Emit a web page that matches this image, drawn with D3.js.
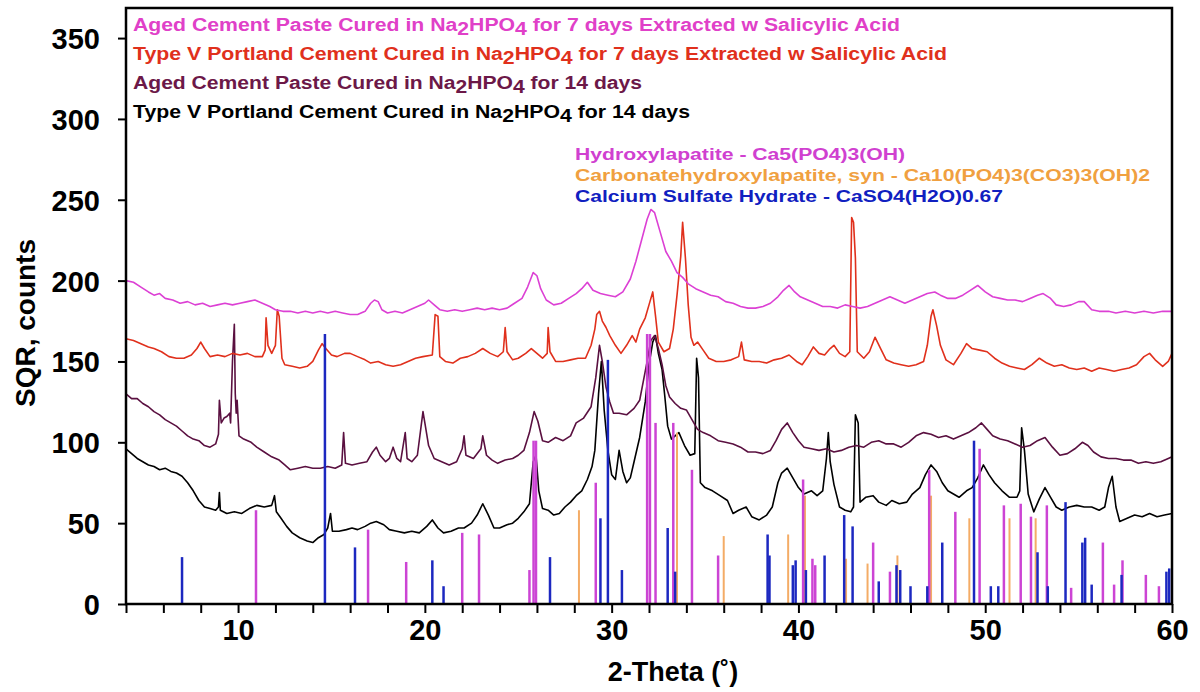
<!DOCTYPE html>
<html>
<head>
<meta charset="utf-8">
<script src="https://cdn.jsdelivr.net/npm/d3@7"></script>
<style>
  body { margin: 0; background: #fff; }
  svg { display: block; font-family: "Liberation Sans", Arial, sans-serif; }
</style>
</head>
<body>
<div id="chart"></div>
<script>
var WD = 1200, HT = 692
var margin = { left: 126, right: 28, top: 8, bottom: 88 }

// scans: [2-theta, counts]
var agedPaste7 = [[4,200],[4.4,199],[4.8,196],[5.2,193],[5.5,191],[5.8,192],[6.1,189],[6.5,188],[6.9,186],[7.3,187],[7.7,185],[8.1,186],[8.5,184],[8.9,185],[9.3,186],[9.7,185],[10.1,186],[10.5,187],[10.9,188],[11.3,186],[11.7,184],[12.0,182],[12.4,181],[12.8,181],[13.2,180],[13.6,181],[14.0,180],[14.4,181],[14.8,180],[15.2,181],[15.6,180],[16.0,179],[16.4,179],[16.8,181],[17.1,186],[17.3,188],[17.5,187],[17.7,182],[18.0,180],[18.4,181],[18.8,180],[19.2,182],[19.6,184],[20.0,186],[20.2,188],[20.5,185],[20.8,182],[21.2,181],[21.6,182],[22.0,181],[22.4,182],[22.8,183],[23.2,182],[23.6,183],[24.0,182],[24.4,183],[24.8,186],[25.2,189],[25.5,196],[25.8,205],[26.0,203],[26.2,195],[26.5,188],[26.9,185],[27.3,186],[27.7,189],[28.1,192],[28.4,195],[28.7,199],[29.0,194],[29.4,192],[29.8,191],[30.2,190],[30.6,193],[31.0,201],[31.3,212],[31.6,225],[31.9,238],[32.1,244],[32.3,242],[32.6,230],[32.9,218],[33.2,212],[33.5,205],[33.8,202],[34.1,198],[34.5,195],[34.9,193],[35.3,191],[35.7,190],[36.1,187],[36.5,186],[36.9,184],[37.3,183],[37.7,183],[38.1,184],[38.5,186],[38.9,190],[39.2,194],[39.5,197],[39.8,193],[40.1,190],[40.5,188],[40.9,186],[41.3,184],[41.7,184],[42.1,183],[42.5,185],[42.9,184],[43.3,183],[43.7,184],[44.1,186],[44.5,188],[44.9,190],[45.3,188],[45.7,186],[46.1,188],[46.5,190],[46.9,192],[47.3,193],[47.6,191],[48.0,189],[48.4,189],[48.8,191],[49.2,194],[49.6,197],[50.0,193],[50.4,190],[50.8,189],[51.2,188],[51.6,188],[52.0,187],[52.4,189],[52.8,191],[53.1,192],[53.5,189],[53.8,185],[54.2,184],[54.6,185],[55.0,187],[55.3,187],[55.7,182],[56.1,181],[56.6,181],[57.0,180],[57.5,181],[58.0,180],[58.5,181],[59.0,180],[59.5,181],[60,181]]

var typeV7 = [[4,164],[4.4,163],[4.8,161],[5.2,159],[5.5,158],[5.9,156],[6.3,153],[6.7,152],[7.1,152],[7.5,154],[7.8,158],[8.0,162],[8.2,158],[8.5,153],[8.9,154],[9.3,153],[9.7,155],[10.1,154],[10.5,155],[10.9,153],[11.3,153],[11.45,157],[11.5,177],[11.6,160],[11.8,155],[12.0,160],[12.1,182],[12.2,178],[12.35,152],[12.5,148],[12.9,147],[13.3,146],[13.7,147],[14.0,150],[14.3,157],[14.5,161],[14.7,158],[15.0,154],[15.3,153],[15.7,155],[16.0,155],[16.4,153],[16.8,151],[17.1,149],[17.5,150],[17.9,148],[18.3,147],[18.7,148],[19.1,150],[19.5,152],[19.9,153],[20.4,154],[20.55,179],[20.7,178],[20.8,153],[21.1,150],[21.5,149],[21.9,152],[22.3,153],[22.7,155],[23.1,158],[23.5,155],[23.9,153],[24.2,156],[24.3,171],[24.4,156],[24.7,151],[25.0,152],[25.4,155],[25.7,158],[26.0,155],[26.3,152],[26.55,155],[26.6,171],[26.7,156],[27.0,150],[27.4,150],[27.8,151],[28.2,152],[28.6,152],[28.9,160],[29.1,170],[29.2,179],[29.35,181],[29.5,175],[29.7,171],[29.9,166],[30.2,160],[30.5,155],[30.8,160],[31.1,166],[31.3,162],[31.5,170],[31.8,177],[32.0,185],[32.2,193],[32.35,178],[32.5,162],[32.8,156],[33.1,158],[33.3,170],[33.5,191],[33.7,215],[33.8,236],[33.95,214],[34.1,185],[34.25,165],[34.4,160],[34.6,162],[34.9,157],[35.2,152],[35.6,150],[36.0,150],[36.4,151],[36.8,153],[36.95,162],[37.1,151],[37.5,150],[37.9,150],[38.3,149],[38.7,151],[39.1,152],[39.5,154],[39.9,150],[40.2,148],[40.5,153],[40.8,159],[41.1,155],[41.4,154],[41.7,158],[41.9,160],[42.2,155],[42.5,153],[42.75,156],[42.85,239],[42.95,236],[43.05,214],[43.15,156],[43.5,152],[43.8,156],[44.1,165],[44.4,158],[44.7,151],[45.1,149],[45.5,148],[45.9,147],[46.3,148],[46.7,150],[46.9,160],[47.1,178],[47.2,182],[47.4,172],[47.6,160],[47.9,151],[48.3,148],[48.7,155],[49.0,161],[49.3,158],[49.7,157],[50.1,156],[50.5,152],[50.9,149],[51.3,147],[51.7,146],[52.1,145],[52.5,148],[52.9,152],[53.3,149],[53.7,147],[54.1,148],[54.5,146],[54.9,145],[55.3,146],[55.7,144],[56.1,146],[56.5,145],[56.9,144],[57.3,145],[57.7,146],[58.1,148],[58.5,153],[58.8,155],[59.1,151],[59.5,147],[59.8,150],[60,155]]

var agedPaste14 = [[4,130],[4.3,127],[4.6,127],[4.9,124],[5.2,122],[5.5,119],[5.8,117],[6.1,114],[6.4,112],[6.7,110],[7.0,107],[7.3,104],[7.6,102],[7.9,101],[8.2,98],[8.5,97],[8.8,99],[8.95,105],[9.0,126],[9.1,112],[9.25,115],[9.4,116],[9.55,118],[9.6,112],[9.7,150],[9.8,173],[9.85,130],[9.9,118],[9.95,126],[10.05,104],[10.3,102],[10.7,100],[11.0,97],[11.4,94],[11.8,91],[12.2,89],[12.5,86],[12.8,83],[13.2,84],[13.6,85],[14.0,84],[14.4,84],[14.8,85],[15.2,84],[15.55,86],[15.65,106],[15.75,87],[16.1,86],[16.5,87],[16.9,88],[17.2,94],[17.4,97],[17.6,92],[17.9,88],[18.1,90],[18.3,97],[18.5,90],[18.7,88],[18.95,106],[19.05,90],[19.3,88],[19.6,92],[19.8,110],[19.9,119],[20.0,112],[20.2,98],[20.5,90],[20.9,88],[21.3,86],[21.7,88],[22.0,96],[22.1,104],[22.2,92],[22.6,90],[23.0,96],[23.1,104],[23.3,92],[23.6,89],[23.9,87],[24.3,89],[24.7,90],[25.0,92],[25.3,95],[25.6,106],[25.85,119],[26.05,113],[26.3,101],[26.6,100],[27.0,103],[27.4,101],[27.8,104],[28.1,112],[28.5,115],[28.9,122],[29.15,140],[29.35,160],[29.5,150],[29.7,134],[29.9,125],[30.1,118],[30.4,118],[30.8,117],[31.2,121],[31.5,126],[31.7,138],[31.9,150],[32.1,163],[32.3,166],[32.5,158],[32.7,148],[32.9,135],[33.1,128],[33.4,124],[33.7,121],[34.0,120],[34.3,114],[34.6,108],[34.9,106],[35.3,104],[35.7,101],[36.1,100],[36.5,99],[36.9,97],[37.3,94],[37.7,94],[38.1,93],[38.5,95],[38.8,101],[39.1,108],[39.4,112],[39.7,106],[40.0,101],[40.3,97],[40.7,96],[41.1,95],[41.5,96],[41.9,94],[42.3,95],[42.7,97],[43.1,98],[43.5,97],[43.9,100],[44.3,101],[44.7,99],[45.1,99],[45.5,97],[45.9,100],[46.3,104],[46.7,106],[47.1,105],[47.5,103],[47.9,104],[48.3,102],[48.7,104],[49.1,106],[49.5,109],[49.8,112],[50.1,108],[50.4,104],[50.8,102],[51.2,101],[51.6,99],[52.0,97],[52.4,98],[52.8,101],[53.2,103],[53.6,97],[54.0,92],[54.4,93],[54.8,96],[55.2,100],[55.5,98],[55.8,94],[56.2,91],[56.6,90],[57.0,90],[57.4,89],[57.8,89],[58.2,87],[58.6,88],[59.0,87],[59.4,88],[59.8,90],[60,91]]

var typeV14 = [[4,96],[4.3,93],[4.6,90],[4.9,88],[5.2,86],[5.5,85],[5.8,83],[6.1,84],[6.4,82],[6.7,81],[7.0,79],[7.3,75],[7.6,70],[7.9,64],[8.2,60],[8.5,59],[8.8,58],[8.95,60],[9.0,69],[9.05,58],[9.4,56],[9.8,57],[10.2,56],[10.6,59],[11.0,61],[11.4,60],[11.8,61],[11.95,67],[12.05,57],[12.3,53],[12.6,48],[12.9,44],[13.3,41],[13.7,39],[14.0,38],[14.3,41],[14.6,43],[14.8,47],[14.95,56],[15.05,45],[15.4,45],[15.8,46],[16.1,47],[16.4,46],[16.8,48],[17.1,50],[17.4,51],[17.8,49],[18.1,46],[18.5,45],[18.9,44],[19.3,45],[19.7,44],[20.1,48],[20.4,52],[20.7,47],[21.0,44],[21.4,45],[21.8,47],[22.1,47],[22.5,50],[22.8,55],[23.1,62],[23.4,55],[23.7,47],[24.0,47],[24.4,49],[24.7,50],[25.0,53],[25.3,57],[25.6,62],[25.8,88],[25.95,92],[26.1,70],[26.3,59],[26.6,58],[26.9,55],[27.2,56],[27.5,60],[27.8,63],[28.1,67],[28.4,70],[28.7,77],[28.95,85],[29.1,95],[29.3,130],[29.45,150],[29.6,120],[29.8,95],[30.0,80],[30.2,77],[30.4,95],[30.6,82],[30.8,75],[31.0,78],[31.2,88],[31.5,103],[31.8,125],[32.0,148],[32.2,162],[32.35,166],[32.5,155],[32.7,145],[32.85,128],[33.0,110],[33.2,102],[33.4,104],[33.6,106],[33.9,98],[34.2,92],[34.45,93],[34.55,152],[34.65,140],[34.75,75],[35.0,72],[35.4,70],[35.8,67],[36.2,64],[36.5,56],[36.8,58],[37.2,60],[37.5,54],[37.9,52],[38.3,55],[38.6,60],[38.9,75],[39.1,81],[39.4,84],[39.7,78],[40.0,72],[40.3,68],[40.7,70],[41.0,67],[41.3,70],[41.5,90],[41.6,106],[41.7,88],[41.9,74],[42.2,60],[42.5,58],[42.8,57],[42.95,60],[43.05,117],[43.2,112],[43.3,63],[43.6,66],[44.0,67],[44.3,63],[44.7,61],[45.0,64],[45.4,62],[45.8,63],[46.1,68],[46.5,72],[46.8,80],[47.1,86],[47.4,82],[47.7,75],[48.0,70],[48.3,68],[48.6,66],[49.0,70],[49.3,72],[49.6,78],[49.9,86],[50.2,80],[50.5,75],[50.9,70],[51.3,66],[51.7,66],[51.85,70],[51.95,109],[52.1,95],[52.3,68],[52.6,57],[52.9,65],[53.2,72],[53.5,66],[53.8,60],[54.1,58],[54.5,60],[54.9,61],[55.3,60],[55.7,60],[56.1,58],[56.4,60],[56.6,72],[56.8,79],[57.0,60],[57.2,51],[57.6,53],[58.0,55],[58.4,54],[58.8,56],[59.2,54],[59.6,55],[60,56]]

// reference patterns (stick lines): [2-theta, height]
var hydroxylapatite = [[10.96,58],[16.96,46],[19.0,26],[22.0,44],[22.9,43],[25.6,21],[25.82,101],[25.95,101],[29.15,75],[31.9,167],[32.05,167],[32.35,112],[33.3,112],[34.3,83],[35.7,30],[40.25,77],[40.75,28],[40.9,24],[44.0,38],[44.9,20],[47.0,83],[48.4,57],[49.7,96],[51.0,61],[51.9,62],[52.45,54],[53.3,61],[54.6,10],[56.3,38],[56.9,12],[57.35,27],[58.6,18],[59.3,11]]
var carbHydroxylapatite = [[28.25,58],[33.5,106],[36.0,42],[39.45,43],[40.35,67],[42.55,28],[43.7,25],[45.3,30],[47.1,67],[49.15,53],[51.3,53],[52.7,53]]
var calciumSulfate = [[7.0,29],[14.65,167],[16.26,35],[20.4,27],[21.0,11],[26.7,29],[29.4,53],[29.8,151],[30.55,21],[33.0,47],[33.4,20],[38.35,43],[38.45,30],[39.7,24],[39.85,27],[40.4,21],[41.4,30],[42.45,55],[42.9,48],[44.3,14],[45.25,24],[45.45,21],[46.0,11],[46.9,11],[47.7,38],[49.4,101],[50.3,11],[50.7,11],[52.8,32],[53.35,11],[54.3,63],[55.2,38],[55.35,41],[55.7,12],[57.3,18],[59.7,20],[59.85,22]]

var yTicks = [0, 50, 100, 150, 200, 250, 300, 350]
var xTicks = [10, 20, 30, 40, 50, 60]

var scans = [
  { name: "typeV14", data: typeV14, color: "#000000" },
  { name: "aged14", data: agedPaste14, color: "#5a1040" },
  { name: "typeV7", data: typeV7, color: "#e0301c" },
  { name: "aged7", data: agedPaste7, color: "#dc40d4" }
]
var sticks = [
  { data: carbHydroxylapatite, color: "#f4ac66", w: 2 },
  { data: hydroxylapatite, color: "#cc44d4", w: 2.5 },
  { data: calciumSulfate, color: "#1c28c0", w: 2.5 }
]

var width = WD - margin.left - margin.right
var height = HT - margin.top - margin.bottom

var x = d3.scaleLinear().domain([4, 60]).range([0, width])
var y = d3.scaleLinear().domain([0, 368.6]).range([height, 0])

var svg = d3.select("#chart").append("svg")
    .attr("width", WD).attr("height", HT)
var g = svg.append("g")
    .attr("transform", "translate(" + margin.left + "," + margin.top + ")")

var line = d3.line().x(function(d){ return x(d[0]) }).y(function(d){ return y(d[1]) })

g.selectAll(".scan").data(scans).enter().append("path")
    .attr("class", "scan")
    .attr("d", function(d){ return line(d.data) })
    .attr("fill", "none")
    .attr("stroke", function(d){ return d.color })
    .attr("stroke-width", 1.6)
    .attr("stroke-linejoin", "round")

sticks.forEach(function(s) {
  g.selectAll(null).data(s.data).enter().append("line")
      .attr("x1", function(d){ return x(d[0]) }).attr("x2", function(d){ return x(d[0]) })
      .attr("y1", y(0)).attr("y2", function(d){ return y(d[1]) })
      .attr("stroke", s.color)
      .attr("stroke-width", s.w)
})

// axes
var xAxis = d3.axisBottom(x).tickValues(d3.range(4, 61, 2)).tickSize(9).tickPadding(6)
    .tickFormat(function(d){ return xTicks.indexOf(d) >= 0 ? d : "" })
var yAxis = d3.axisLeft(y).tickValues(yTicks).tickSize(8).tickPadding(18)

var gx = g.append("g").attr("transform", "translate(0," + height + ")").call(xAxis)
var gy = g.append("g").call(yAxis)
;[gx, gy].forEach(function(a) {
  a.select(".domain").remove()
  a.selectAll(".tick line").attr("stroke", "#000").attr("stroke-width", 2)
  a.selectAll("text").attr("fill", "#000")
      .style("font-size", "29px").style("font-weight", "bold")
      .style("font-family", "'Liberation Sans', Arial, sans-serif")
})
gy.selectAll("text").attr("dy", "0.36em")

// frame
g.append("rect").attr("width", width).attr("height", height)
    .attr("fill", "none").attr("stroke", "#000").attr("stroke-width", 2.5)

// axis titles
svg.append("text")
    .attr("transform", "translate(35," + (margin.top + 315) + ") rotate(-90)")
    .attr("text-anchor", "middle")
    .style("font-size", "28px").style("font-weight", "bold")
    .text("SQR, counts")
svg.append("text")
    .attr("x", 673).attr("y", 681)
    .attr("text-anchor", "middle")
    .style("font-size", "27px").style("font-weight", "bold")
    .text("2-Theta (˚)")

// legend of scans, with subscripts
var legendText = [
  { pre: "Aged Cement Paste Cured in Na", post: " for 7 days Extracted w Salicylic Acid", color: "#e040c8", y: 31, len: 767 },
  { pre: "Type V Portland Cement Cured in Na", post: " for 7 days Extracted w Salicylic Acid", color: "#e0301c", y: 60, len: 814 },
  { pre: "Aged Cement Paste Cured in Na", post: " for 14 days", color: "#6c1848", y: 89, len: 509 },
  { pre: "Type V Portland Cement Cured in Na", post: " for 14 days", color: "#000000", y: 118, len: 557 }
]
legendText.forEach(function(l) {
  var t = svg.append("text")
      .attr("x", 133).attr("y", l.y)
      .attr("fill", l.color)
      .attr("textLength", l.len).attr("lengthAdjust", "spacingAndGlyphs")
      .style("font-size", "18px").style("font-weight", "bold")
  t.append("tspan").text(l.pre)
  t.append("tspan").attr("dy", 4).text("2")
  t.append("tspan").attr("dy", -4).text("HPO")
  t.append("tspan").attr("dy", 4).text("4")
  t.append("tspan").attr("dy", -4).text(l.post)
})

// legend of reference phases
var phaseText = [
  { text: "Hydroxylapatite - Ca5(PO4)3(OH)", color: "#d040d0", y: 160, len: 330 },
  { text: "Carbonatehydroxylapatite, syn - Ca10(PO4)3(CO3)3(OH)2", color: "#f0a040", y: 181, len: 575 },
  { text: "Calcium Sulfate Hydrate - CaSO4(H2O)0.67", color: "#1020c0", y: 202, len: 428 }
]
svg.selectAll(".phase").data(phaseText).enter().append("text")
    .attr("class", "phase")
    .attr("x", 575).attr("y", function(d){ return d.y })
    .attr("fill", function(d){ return d.color })
    .attr("textLength", function(d){ return d.len }).attr("lengthAdjust", "spacingAndGlyphs")
    .style("font-size", "16px").style("font-weight", "bold")
    .text(function(d){ return d.text })
</script>
</body>
</html>
